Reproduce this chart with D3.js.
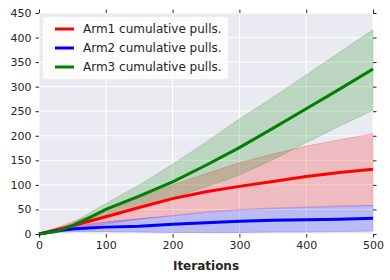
<!DOCTYPE html>
<html>
<head>
<meta charset="utf-8">
<script src="https://d3js.org/d3.v7.min.js"></script>
<style>
  body { margin: 0; background: #fff; }
  svg text { font-family: "DejaVu Sans", sans-serif; fill: #262626; }
</style>
</head>
<body>
<div id="chart"></div>
<script>
// iterations sampled along the x axis
var iters = [0, 25, 50, 75, 100, 150, 200, 250, 300, 350, 400, 450, 500];

// mean and band limits for each arm
var arm1Mean  = [0, 8, 17, 26, 35, 54, 72, 86, 97, 107, 117, 125, 132];
var arm1Upper = [0, 12, 25, 36, 48, 74, 100, 123, 145, 163, 179, 192, 204];
var arm1Lower = [0, 5, 10, 15, 20, 30, 38, 45, 50, 53, 55, 57, 58];

var arm2Mean  = [0, 6, 10, 12, 14, 16, 20, 23, 26, 28, 29, 30, 32];
var arm2Upper = [0, 9, 15, 20, 25, 31, 37, 44, 49, 52, 54, 56, 58];
var arm2Lower = [0, 3, 5, 5, 5, 4, 3, 3, 3, 4, 4, 5, 6];

var arm3Mean  = [0, 5, 17, 33, 50, 77, 106, 140, 176, 215, 255, 295, 336];
var arm3Upper = [0, 7, 22, 42, 62, 100, 142, 187, 234, 278, 324, 370, 416];
var arm3Lower = [0, 3, 12, 24, 35, 55, 74, 96, 120, 151, 186, 220, 252];

var seriesNames = ["Arm1 cumulative pulls.", "Arm2 cumulative pulls.", "Arm3 cumulative pulls."];
var colors = ["#ff0000", "#0000ff", "#008000"];
var yTicks = [0, 50, 100, 150, 200, 250, 300, 350, 400, 450];
var xTicks = [0, 100, 200, 300, 400, 500];

var series = [
  {name: seriesNames[0], mean: arm1Mean, lo: arm1Lower, hi: arm1Upper},
  {name: seriesNames[1], mean: arm2Mean, lo: arm2Lower, hi: arm2Upper},
  {name: seriesNames[2], mean: arm3Mean, lo: arm3Lower, hi: arm3Upper}
];

var margin = {top: 13, right: 17, bottom: 46, left: 39};
var width = 390 - margin.left - margin.right;
var height = 280 - margin.top - margin.bottom;

var x = d3.scaleLinear().domain([0, 500]).range([0, width]);
var y = d3.scaleLinear().domain([0, 450]).range([height, 0]);

var svg = d3.select('#chart').append('svg')
    .attr('width', 390).attr('height', 280)
  .append('g')
    .attr('transform', 'translate(' + margin.left + ',' + margin.top + ')');

svg.append('rect').attr('width', width).attr('height', height).attr('fill', '#eaeaf2');

// grid
svg.append('g').selectAll('line').data(yTicks).enter().append('line')
  .attr('x1', 0).attr('x2', width)
  .attr('y1', function(d) { return y(d); }).attr('y2', function(d) { return y(d); })
  .attr('stroke', '#fff').attr('stroke-width', 1);
svg.append('g').selectAll('line').data(xTicks).enter().append('line')
  .attr('y1', 0).attr('y2', height)
  .attr('x1', function(d) { return x(d); }).attr('x2', function(d) { return x(d); })
  .attr('stroke', '#fff').attr('stroke-width', 1);

var area = d3.area()
  .x(function(d, i) { return x(iters[i]); })
  .y0(function(d) { return y(d[0]); })
  .y1(function(d) { return y(d[1]); });

var line = d3.line()
  .x(function(d, i) { return x(iters[i]); })
  .y(function(d) { return y(d); });

series.forEach(function(s, k) {
  var band = s.lo.map(function(v, i) { return [v, s.hi[i]]; });
  svg.append('path').datum(band)
    .attr('d', area)
    .attr('fill', colors[k]).attr('fill-opacity', 0.2)
    .attr('stroke', colors[k]).attr('stroke-opacity', 0.2).attr('stroke-width', 1);
});

series.forEach(function(s, k) {
  svg.append('path').datum(s.mean)
    .attr('d', line)
    .attr('fill', 'none')
    .attr('stroke', colors[k]).attr('stroke-width', 3);
});

// axes with ticks on all four sides
function styleAxis(g) {
  g.select('.domain').remove();
  g.selectAll('.tick line').attr('stroke', '#262626');
  g.selectAll('.tick text').style('font-size', '11px').attr('fill', '#262626');
}

svg.append('g').attr('transform', 'translate(0,' + height + ')')
  .call(d3.axisBottom(x).tickValues(xTicks).tickSizeInner(3.5).tickPadding(4))
  .call(styleAxis);
svg.append('g')
  .call(d3.axisTop(x).tickValues(xTicks).tickSizeInner(3.5).tickFormat(''))
  .call(styleAxis);
svg.append('g')
  .call(d3.axisLeft(y).tickValues(yTicks).tickSizeInner(3.5).tickPadding(4))
  .call(styleAxis);
svg.append('g').attr('transform', 'translate(' + width + ',0)')
  .call(d3.axisRight(y).tickValues(yTicks).tickSizeInner(3.5).tickFormat(''))
  .call(styleAxis);

svg.append('text')
  .attr('x', width / 2).attr('y', height + 36)
  .attr('text-anchor', 'middle')
  .style('font-size', '12px').style('font-weight', 'bold')
  .text('Iterations');

// legend
var legend = svg.append('g').attr('transform', 'translate(4,4)');
legend.append('rect')
  .attr('width', 185).attr('height', 62).attr('rx', 2)
  .attr('fill', '#fff').attr('fill-opacity', 0.85);
series.forEach(function(s, k) {
  var row = legend.append('g').attr('transform', 'translate(0,' + (12 + k * 19) + ')');
  row.append('line').attr('x1', 12).attr('x2', 31).attr('y1', 0).attr('y2', 0)
    .attr('stroke', colors[k]).attr('stroke-width', 3);
  row.append('text').attr('x', 40).attr('y', 4)
    .style('font-size', '12px')
    .text(s.name);
});
</script>
</body>
</html>
